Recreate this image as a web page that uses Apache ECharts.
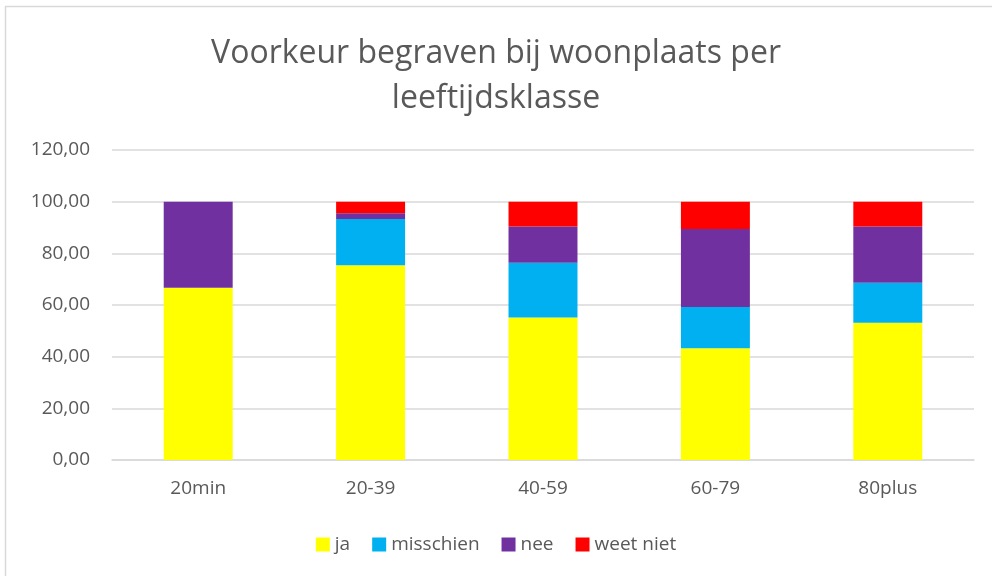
<!DOCTYPE html>
<html>
<head>
<meta charset="utf-8">
<script src="https://cdn.jsdelivr.net/npm/echarts@6/dist/echarts.min.js"></script>
<style>html,body{margin:0;padding:0;background:#fff}#c{width:992px;height:576px}</style>
</head>
<body>
<div id="c"></div>
<script>
const categories = ['20min', '20-39', '40-59', '60-79', '80plus'];
const ja = [66.67, 75.4, 55.2, 43.3, 53.1];
const misschien = [0, 17.9, 21.2, 15.9, 15.5];
const nee = [33.33, 2.2, 14.0, 30.2, 21.8];
const weetNiet = [0, 4.5, 9.6, 10.6, 9.6];
const yTicks = [0, 20, 40, 60, 80, 100, 120];
const titleText = 'Voorkeur begraven bij woonplaats per\nleeftijdsklasse';

const font = 'Open Sans';
const txt = '#595959';
const chart = echarts.init(document.getElementById('c'), null, {renderer: 'canvas'});
function s(name, data, color) {
  return {name, type: 'bar', stack: 't', data, barWidth: '40%',
    itemStyle: {color}, emphasis: {disabled: true}};
}
chart.setOption({
  animation: false,
  graphic: [{type: 'rect', shape: {x: 5.5, y: 6.5, width: 1000, height: 600},
    style: {fill: 'none', stroke: '#d9d9d9', lineWidth: 1.5}, silent: true}],
  title: {text: titleText, left: 'center', top: 26,
    textStyle: {fontFamily: font, fontSize: 32, fontWeight: 'normal', color: txt, lineHeight: 45}},
  legend: {bottom: 17, left: 'center', itemWidth: 14, itemHeight: 14, itemGap: 22,
    icon: 'rect', textStyle: {fontFamily: font, fontSize: 19, color: txt, padding: [0, 0, 0, 0]},
    data: ['ja', 'misschien', 'nee', 'weet niet']},
  grid: {left: 112, right: 18, top: 150, bottom: 116, containLabel: false},
  xAxis: {type: 'category', data: categories,
    axisLine: {lineStyle: {color: '#d9d9d9', width: 1.5}}, axisTick: {show: false},
    axisLabel: {fontFamily: font, fontSize: 19, color: txt, margin: 19}},
  yAxis: {type: 'value', min: 0, max: 120, interval: 20,
    axisLine: {show: false}, axisTick: {show: false},
    splitLine: {lineStyle: {color: '#d9d9d9', width: 1.5}},
    axisLabel: {fontFamily: font, fontSize: 19, color: txt, margin: 22,
      formatter: v => yTicks.includes(v) ? v.toFixed(2).replace('.', ',') : ''}},
  series: [s('ja', ja, '#ffff00'), s('misschien', misschien, '#00b0f0'),
    s('nee', nee, '#7030a0'), s('weet niet', weetNiet, '#ff0000')]
});
</script>
</body>
</html>
